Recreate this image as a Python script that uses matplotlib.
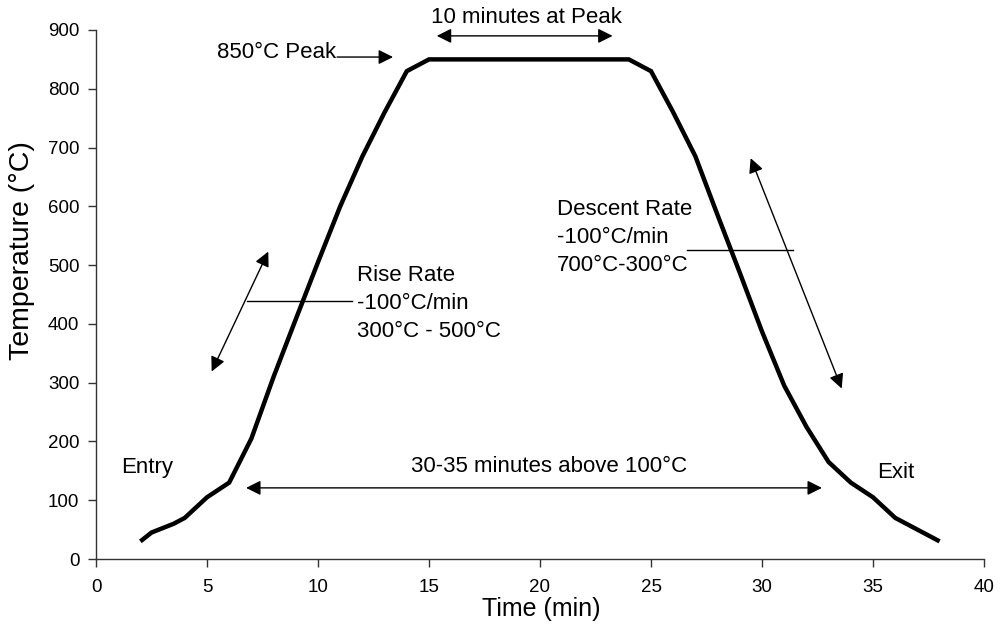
import matplotlib
matplotlib.use("Agg")
import matplotlib.pyplot as plt

plt.rcParams['font.family'] = ['Liberation Sans', 'DejaVu Sans']

# Data
time_min = [2, 2.5, 3.5, 4, 5, 6, 7, 8, 9, 10, 11, 12, 13, 14, 15, 16, 17, 18, 19, 20,
            21, 22, 23, 24, 25, 26, 27, 28, 29, 30, 31, 32, 33, 34, 35, 36, 38]
temp_c = [30, 45, 60, 70, 105, 130, 205, 310, 408, 505, 600, 685, 760, 830, 850, 850, 850, 850, 850, 850,
          850, 850, 850, 850, 830, 760, 685, 585, 487, 387, 295, 225, 165, 130, 105, 70, 30]
x_ticks = [0, 5, 10, 15, 20, 25, 30, 35, 40]
y_ticks = [0, 100, 200, 300, 400, 500, 600, 700, 800, 900]

fig = plt.figure(figsize=(10.01, 6.27), dpi=100)
ax = fig.add_axes([96/1001, 68/627, 888/1001, 529/627])

ax.plot(time_min, temp_c, color='black', lw=3.2, solid_capstyle='butt', solid_joinstyle='miter')

ax.set_xlim(0, 40)
ax.set_ylim(0, 900)
ax.set_xticks(x_ticks)
ax.set_yticks(y_ticks)
ax.tick_params(axis='both', direction='out', length=6, width=1, labelsize=13.5, color='#333333')
ax.tick_params(axis='x', pad=8.5)
ax.tick_params(axis='y', pad=6)
ax.spines['top'].set_visible(False)
ax.spines['right'].set_visible(False)
for s in ('left', 'bottom'):
    ax.spines[s].set_color('#333333')
    ax.spines[s].set_linewidth(1)

ax.set_xlabel('Time (min)', fontsize=18)
ax.xaxis.label.set_va('center')
ax.xaxis.set_label_coords(0.501, -0.095)
ax.set_ylabel('Temperature (°C)', fontsize=20.5)
ax.yaxis.label.set_va('center')
ax.yaxis.set_label_coords(-0.0833, 0.584)

fs = 16
arrow2 = dict(arrowstyle='<|-|>', color='black', lw=1, mutation_scale=22, shrinkA=0, shrinkB=0)
arrow1 = dict(arrowstyle='-|>', color='black', lw=1, mutation_scale=22, shrinkA=0, shrinkB=0)

# 850 Peak
ax.text(5.45, 861, '850°C Peak', fontsize=fs, va='center', ha='left')
ax.annotate('', xy=(13.38, 854), xytext=(10.86, 854), arrowprops=arrow1, annotation_clip=False)

# 10 minutes at peak
ax.text(19.37, 922, '10 minutes at Peak', fontsize=fs, va='center', ha='center')
ax.annotate('', xy=(15.35, 890), xytext=(23.27, 890), arrowprops=arrow2, annotation_clip=False)

# 30-35 minutes
ax.text(20.4, 158, '30-35 minutes above 100°C', fontsize=fs, va='center', ha='center')
ax.annotate('', xy=(6.76, 121), xytext=(32.7, 121), arrowprops=arrow2)

ax.text(1.13, 155, 'Entry', fontsize=fs, va='center', ha='left')
ax.text(35.2, 148, 'Exit', fontsize=fs, va='center', ha='left')

# Rise rate
ax.annotate('', xy=(7.76, 523), xytext=(5.21, 319), arrowprops=arrow2)
ax.plot([6.79, 11.52], [439, 439], color='black', lw=1)
ax.text(11.74, 435, 'Rise Rate\n-100°C/min\n300°C - 500°C', fontsize=fs, va='center', ha='left',
        linespacing=1.45)

# Descent rate
ax.annotate('', xy=(29.49, 682), xytext=(33.59, 290), arrowprops=arrow2)
ax.plot([26.6, 31.4], [526, 526], color='black', lw=1)
ax.text(20.75, 547, 'Descent Rate\n-100°C/min\n700°C-300°C', fontsize=fs, va='center', ha='left',
        linespacing=1.45)

fig.savefig('out.png', dpi=100)
